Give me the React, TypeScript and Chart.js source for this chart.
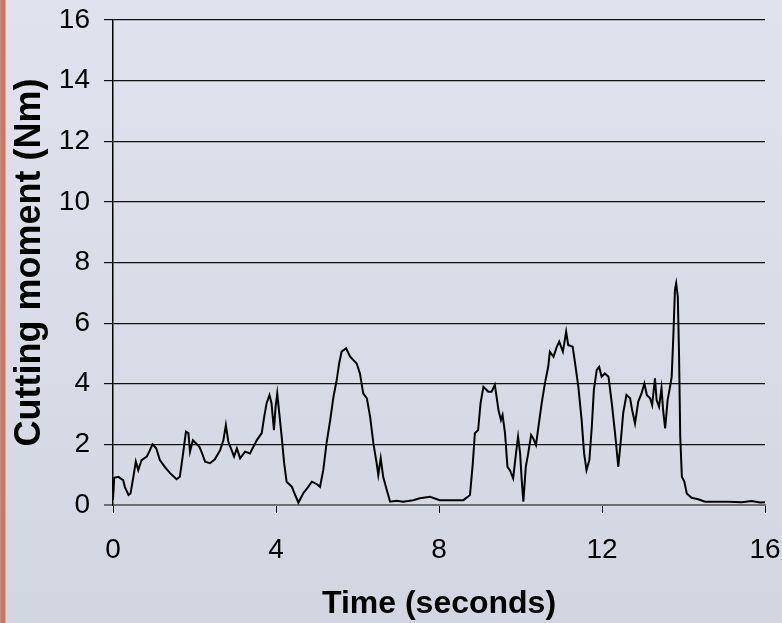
import React, { useEffect, useRef } from "react";
import { Chart, registerables } from "chart.js";

Chart.register(...registerables);

const timeSeconds: number[] = [
  0, 0.03, 0.13, 0.25, 0.29, 0.38, 0.43, 0.5, 0.56, 0.62, 0.7, 0.83, 0.89, 0.97,
  1.06, 1.15, 1.28, 1.4, 1.56, 1.64, 1.71, 1.79, 1.85, 1.89, 1.96, 2.04, 2.12,
  2.18, 2.26, 2.38, 2.5, 2.63, 2.71, 2.77, 2.83, 2.91, 2.97, 3.04, 3.12, 3.24,
  3.36, 3.53, 3.65, 3.71, 3.77, 3.84, 3.89, 3.95, 3.99, 4.03, 4.08, 4.14, 4.2,
  4.26, 4.39, 4.47, 4.55, 4.67, 4.79, 4.88, 5.0, 5.08, 5.16, 5.24, 5.33, 5.41,
  5.49, 5.55, 5.61, 5.72, 5.82, 5.98, 6.06, 6.14, 6.23, 6.31, 6.39, 6.47, 6.51,
  6.57, 6.63, 6.72, 6.8, 6.96, 7.12, 7.37, 7.53, 7.78, 8.02, 8.27, 8.6, 8.76,
  8.83, 8.88, 8.96, 9.02, 9.09, 9.21, 9.29, 9.37, 9.46, 9.52, 9.56, 9.62, 9.68,
  9.74, 9.82, 9.89, 9.94, 9.99, 10.03, 10.07, 10.13, 10.19, 10.26, 10.31, 10.38,
  10.44, 10.52, 10.6, 10.68, 10.72, 10.81, 10.89, 10.95, 11.04, 11.12, 11.17,
  11.28, 11.34, 11.42, 11.5, 11.56, 11.62, 11.69, 11.75, 11.8, 11.87, 11.93,
  11.99, 12.07, 12.16, 12.24, 12.32, 12.4, 12.47, 12.52, 12.6, 12.69, 12.74,
  12.81, 12.89, 12.97, 13.04, 13.1, 13.18, 13.23, 13.3, 13.34, 13.4, 13.46, 13.5,
  13.55, 13.61, 13.67, 13.71, 13.75, 13.79, 13.82, 13.86, 13.89, 13.92, 13.96,
  14.02, 14.08, 14.2, 14.36, 14.53, 14.77, 15.1, 15.43, 15.67, 15.88, 16.0,
];

const cuttingMoment: number[] = [
  0.17, 0.9, 0.93, 0.82, 0.6, 0.33, 0.38, 0.93, 1.43, 1.15, 1.48, 1.6, 1.76, 2.0,
  1.87, 1.48, 1.24, 1.05, 0.85, 0.93, 1.6, 2.42, 2.37, 1.76, 2.14, 2.03, 1.92,
  1.73, 1.43, 1.38, 1.51, 1.81, 2.14, 2.64, 2.09, 1.81, 1.6, 1.87, 1.54, 1.76,
  1.7, 2.14, 2.37, 2.91, 3.36, 3.63, 3.36, 2.47, 3.24, 3.68, 3.03, 2.25, 1.38,
  0.77, 0.6, 0.33, 0.08, 0.39, 0.6, 0.77, 0.69, 0.6, 1.15, 2.03, 2.8, 3.57,
  4.12, 4.67, 5.06, 5.17, 4.89, 4.67, 4.34, 3.68, 3.52, 2.91, 2.03, 1.38, 0.99,
  1.54, 0.93, 0.49, 0.11, 0.14, 0.11, 0.16, 0.22, 0.27, 0.16, 0.16, 0.16, 0.33,
  1.38, 2.37, 2.47, 3.36, 3.9, 3.74, 3.74, 3.96, 3.13, 2.8, 2.97, 2.37, 1.26,
  1.15, 0.88, 1.71, 2.25, 1.71, 0.82, 0.11, 1.26, 1.71, 2.31, 2.2, 1.98,
  2.58, 3.36, 4.02, 4.56, 5.06, 4.89, 5.22, 5.39, 5.06, 5.72, 5.28,
  5.22, 4.67, 3.9, 2.8, 1.71, 1.15, 1.48, 2.58, 3.79, 4.45, 4.56,
  4.23, 4.34, 4.23, 3.36, 2.37, 1.26, 2.25, 3.03, 3.63, 3.52, 3.13,
  2.69, 3.41, 3.68, 4.01, 3.63, 3.52, 3.3, 4.18, 3.46, 3.24, 3.85, 3.13,
  2.53, 3.46, 3.9, 4.23, 5.55, 7.09, 7.31, 6.87, 5.0, 2.25, 0.93,
  0.77, 0.38, 0.24, 0.19, 0.11, 0.11, 0.11, 0.09, 0.13, 0.08, 0.09,
];

const xTicks: number[] = [0, 4, 8, 12, 16];
const yTicks: number[] = [0, 2, 4, 6, 8, 10, 12, 14, 16];

const FONT = "'Liberation Sans', Arial, sans-serif";

export default function App() {
  const ref = useRef<HTMLCanvasElement | null>(null);

  useEffect(() => {
    if (!ref.current) return;
    const points = timeSeconds.map((t, i) => ({ x: t, y: cuttingMoment[i] }));
    const chart = new Chart(ref.current, {
      type: "line",
      data: {
        datasets: [
          {
            data: points,
            borderColor: "#000000",
            borderWidth: 2,
            pointRadius: 0,
            tension: 0,
            fill: false,
          },
        ],
      },
      options: {
        responsive: false,
        animation: false,
        layout: { padding: { top: 20, right: 17, bottom: 0, left: 0 } },
        plugins: { legend: { display: false }, tooltip: { enabled: false } },
        scales: {
          x: {
            type: "linear",
            min: 0,
            max: 16,
            afterBuildTicks: (s: any) => {
              s.ticks = xTicks.map((v) => ({ value: v }));
            },
            afterFit: (s: any) => {
              s.height = 118;
              s.paddingLeft = 0;
              s.paddingRight = 0;
              s.paddingTop = 0;
              s.paddingBottom = 0;
            },
            ticks: {
              color: "#000",
              font: { family: FONT, size: 28 },
              padding: 20,
              maxRotation: 0,
            },
            grid: {
              drawOnChartArea: false,
              drawTicks: true,
              tickLength: 8,
              color: "#000",
              lineWidth: 1,
            },
            border: { display: true, color: "#6e6e6e", width: 2 },
            title: {
              display: true,
              text: "Time (seconds)",
              color: "#000",
              font: { family: FONT, size: 32, weight: "bold" },
              padding: { top: 0, bottom: 0 },
            },
          },
          y: {
            type: "linear",
            min: 0,
            max: 16,
            afterBuildTicks: (s: any) => {
              s.ticks = yTicks.map((v) => ({ value: v }));
            },
            afterFit: (s: any) => {
              s.width = 113;
              s.paddingLeft = 0;
              s.paddingRight = 0;
              s.paddingTop = 0;
              s.paddingBottom = 0;
            },
            ticks: {
              color: "#000",
              font: { family: FONT, size: 28 },
              padding: 14,
            },
            grid: {
              drawOnChartArea: true,
              drawTicks: true,
              tickLength: 9,
              color: (ctx: any) => (ctx.tick && ctx.tick.value === 0 ? "#6e6e6e" : "#111"),
              lineWidth: (ctx: any) => (ctx.tick && ctx.tick.value === 0 ? 2 : 1.2),
            },
            border: { display: true, color: "#000", width: 1.5 },
            title: {
              display: true,
              text: "Cutting moment (Nm)",
              color: "#000",
              font: { family: FONT, size: 36, weight: "bold" },
              padding: { top: 8, bottom: 0 },
            },
          },
        },
      },
    });
    return () => chart.destroy();
  }, []);

  return (
    <div
      style={{
        position: "absolute",
        left: 0,
        top: 0,
        width: 782,
        height: 623,
        background:
          "linear-gradient(to right, #d8a090 0px, #c27a6a 1px, #c27a6a 5px, #ecd2cc 6px, rgba(0,0,0,0) 7px), linear-gradient(to bottom, #e0e3ed 0%, #d2d6e1 100%)",
      }}
    >
      <canvas ref={ref} width={782} height={623} style={{ display: "block" }} />
    </div>
  );
}
